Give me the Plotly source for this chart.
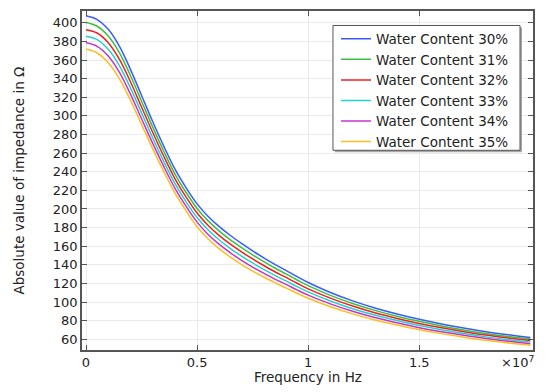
import plotly.graph_objects as go

# Frequency sample points (Hz)
freq_hz = [0, 0.05e7, 0.1e7, 0.15e7, 0.2e7, 0.25e7, 0.3e7, 0.35e7, 0.4e7, 0.45e7,
           0.5e7, 0.55e7, 0.6e7, 0.65e7, 0.7e7, 0.75e7, 0.8e7, 0.85e7, 0.9e7, 0.95e7,
           1.0e7, 1.1e7, 1.2e7, 1.3e7, 1.4e7, 1.5e7, 1.6e7, 1.7e7, 1.8e7, 1.9e7, 2.0e7]

wc30 = [407.6, 403.5, 393.0, 375.0, 350.0, 322.0, 294.0, 267.5, 243.0, 223.0,
        205.5, 192.0, 181.0, 171.5, 163.0, 155.0, 147.5, 140.5, 134.0, 127.3,
        121.0, 110.3, 101.3, 93.7, 87.2, 81.5, 76.5, 72.1, 68.2, 64.9, 62.0]
wc31 = [400.3, 396.3, 385.8, 368.0, 343.4, 315.8, 288.2, 262.0, 237.8, 218.0,
        200.6, 187.2, 176.2, 166.8, 158.5, 150.7, 143.4, 136.6, 130.2, 123.7,
        117.6, 107.2, 98.5, 91.1, 84.8, 79.3, 74.4, 70.1, 66.3, 63.1, 60.3]
wc32 = [392.6, 389.1, 378.7, 361.0, 336.7, 309.5, 282.4, 256.6, 232.7, 213.0,
        195.7, 182.3, 171.4, 162.2, 153.9, 146.3, 139.3, 132.6, 126.5, 120.2,
        114.2, 104.2, 95.7, 88.5, 82.4, 77.0, 72.3, 68.2, 64.5, 61.4, 58.6]
wc33 = [385.6, 382.0, 371.5, 354.1, 330.1, 303.3, 276.5, 251.1, 227.5, 208.0,
        190.8, 177.5, 166.7, 157.5, 149.4, 142.0, 135.1, 128.7, 122.7, 116.6,
        110.9, 101.1, 92.9, 86.0, 80.1, 74.8, 70.3, 66.2, 62.6, 59.6, 57.0]
wc34 = [378.5, 374.8, 364.4, 347.1, 323.4, 297.0, 270.7, 245.7, 222.4, 203.0,
        185.9, 172.6, 161.9, 152.9, 144.8, 137.6, 131.0, 124.7, 119.0, 113.1,
        107.5, 98.1, 90.1, 83.4, 77.7, 72.5, 68.2, 64.3, 60.8, 57.9, 55.3]
wc35 = [371.8, 367.6, 357.2, 340.1, 316.8, 290.8, 264.9, 240.2, 217.2, 198.0,
        181.0, 167.8, 157.1, 148.2, 140.3, 133.3, 126.9, 120.8, 115.2, 109.5,
        104.1, 95.0, 87.3, 80.8, 75.3, 70.3, 66.1, 62.3, 58.9, 56.1, 53.6]

series_names = ["Water Content 30%", "Water Content 31%", "Water Content 32%",
                "Water Content 33%", "Water Content 34%", "Water Content 35%"]
series_values = [wc30, wc31, wc32, wc33, wc34, wc35]
colors = ["#3a5cff", "#3cc040", "#ee2020", "#22d2d2", "#c833c8", "#ffbe1e"]

x_tickvals = [0, 0.5e7, 1.0e7, 1.5e7]
x_ticktext = ["0", "0.5", "1", "1.5"]
y_tickvals = list(range(60, 401, 20))

FONT = "DejaVu Sans, Verdana, sans-serif"
TXT = "#222222"

fig = go.Figure()
for name, vals, col in zip(series_names, series_values, colors):
    fig.add_trace(go.Scatter(x=freq_hz, y=vals, mode="lines", name=name,
                             line=dict(color=col, width=1.5, shape="spline", smoothing=1.0)))

# page body has an 8px default margin, so the figure is 542x384 and offset by 8px
fig.update_layout(
    width=542, height=384,
    margin=dict(l=74, r=17, t=2.5, b=42, autoexpand=False),
    paper_bgcolor="white", plot_bgcolor="white",
    font=dict(family=FONT, size=13, color=TXT),
    showlegend=True,
    legend=dict(x=0.5632, y=0.963, xanchor="left", yanchor="top",
                bgcolor="rgba(0,0,0,0)", borderwidth=0,
                font=dict(family=FONT, size=13.5, color=TXT),
                itemwidth=30, tracegroupgap=0),
)
fig.update_xaxes(range=[-0.018e7, 2.012e7], tickvals=x_tickvals, ticktext=x_ticktext,
                 showgrid=True, gridcolor="#ebebeb", gridwidth=1, zeroline=False,
                 showline=True, linecolor="#555555", linewidth=1.5, mirror="ticks",
                 ticks="inside", ticklen=5, tickcolor="#555555", automargin=False,
                 tickfont=dict(size=13, color=TXT))
fig.update_yaxes(range=[48.5, 412.7], tickvals=y_tickvals,
                 showgrid=True, gridcolor="#ebebeb", gridwidth=1, zeroline=False,
                 showline=True, linecolor="#555555", linewidth=1.5, mirror="ticks",
                 ticks="inside", ticklen=5, tickcolor="#555555", automargin=False,
                 tickfont=dict(size=13, color=TXT))

# axis titles as annotations placed like the reference
fig.add_annotation(x=0.5, y=0, xref="paper", yref="paper", xanchor="center", yanchor="middle",
                   yshift=-27, showarrow=False, text="Frequency in Hz",
                   font=dict(size=13.5, color=TXT, family=FONT))
fig.add_annotation(x=0, y=0.5, xref="paper", yref="paper", xanchor="center", yanchor="middle",
                   xshift=-64, showarrow=False, text="Absolute value of impedance in Ω",
                   textangle=-90, font=dict(size=13.5, color=TXT, family=FONT))
fig.add_annotation(x=1.0, y=0, xref="paper", yref="paper", xanchor="right", yanchor="middle",
                   yshift=-12, xshift=3, showarrow=False, text="×10<sup>7</sup>",
                   font=dict(size=13, color=TXT, family=FONT))

# legend box with drop shadow
fig.add_shape(type="rect", xref="paper", yref="paper",
              x0=0.561, x1=0.9756, y0=0.5832, y1=0.9514,
              fillcolor="#a8a8a8", line=dict(width=0), layer="above")
fig.add_shape(type="rect", xref="paper", yref="paper",
              x0=0.5565, x1=0.9712, y0=0.5891, y1=0.9573,
              fillcolor="white", line=dict(width=1, color="#555555"), layer="above")

fig.write_html("out.html")
